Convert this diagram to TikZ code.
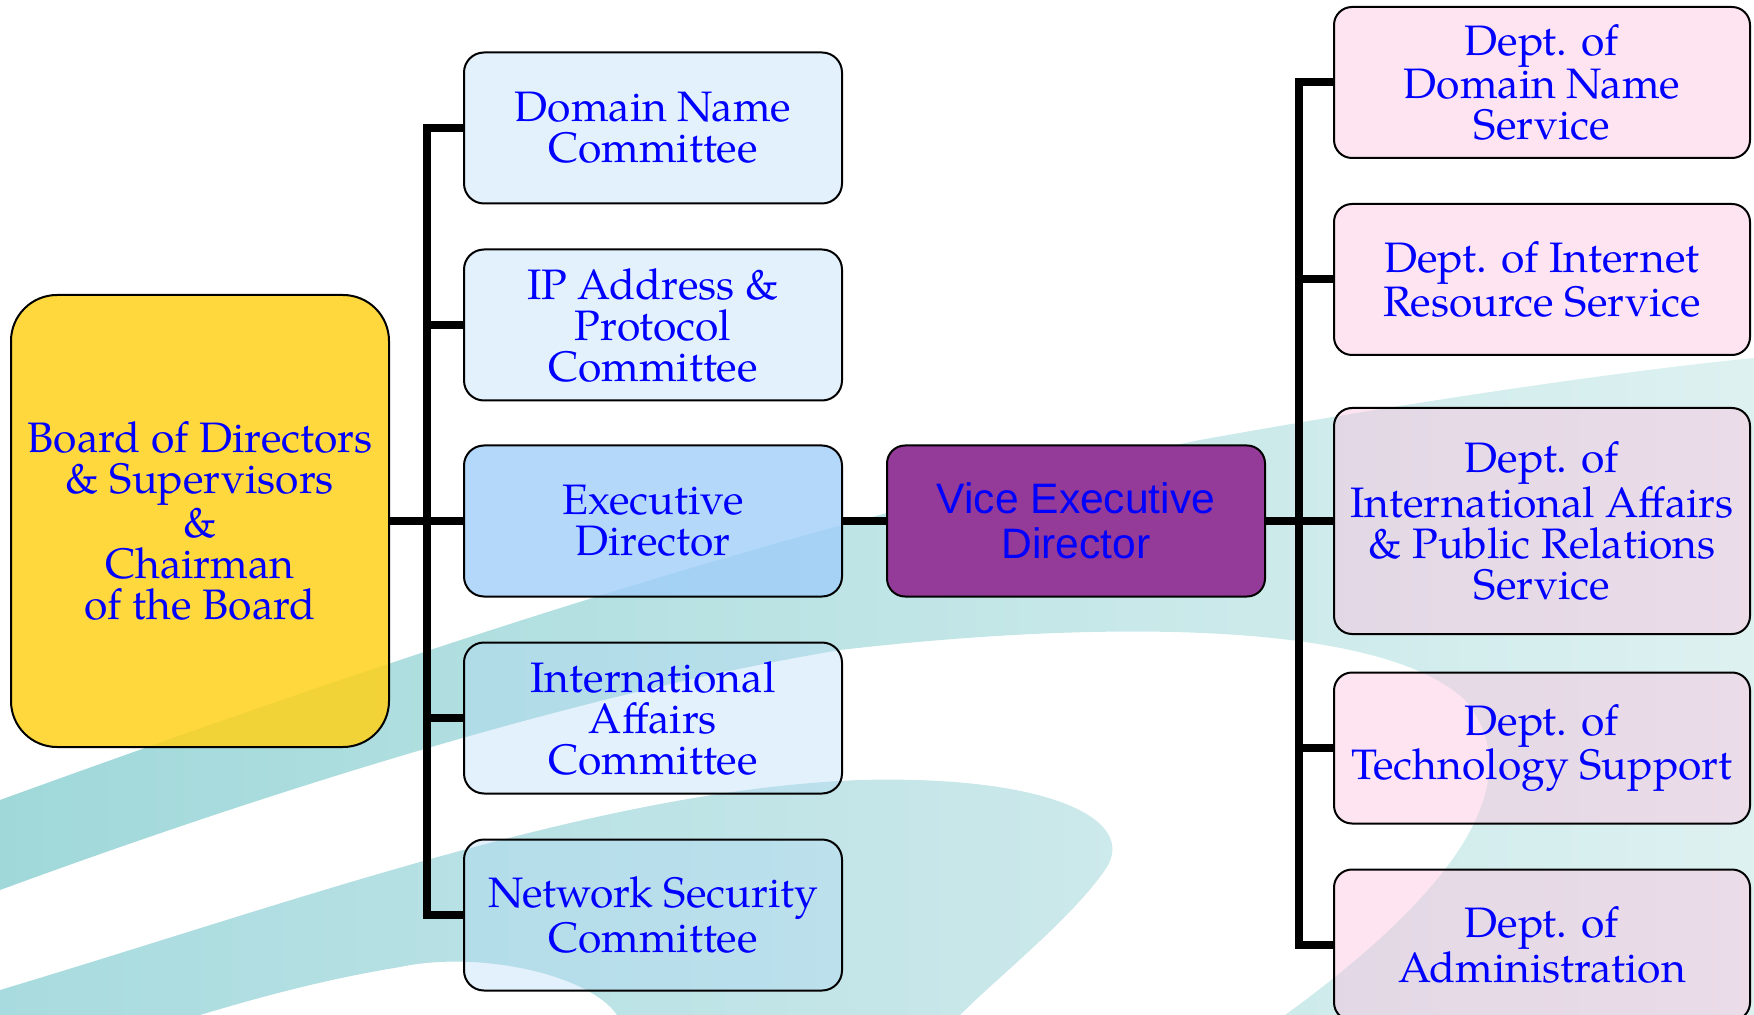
\documentclass[tikz,border=0pt]{standalone}
\usepackage{fontspec}
\setmainfont{texgyrepagella}[Extension=.otf,UprightFont=*-regular,BoldFont=*-bold,ItalicFont=*-italic,BoldItalicFont=*-bolditalic]
\newfontfamily\vedfont{Liberation Sans}
\usepackage{tikz}
\usetikzlibrary{positioning}
\definecolor{bandA}{RGB}{160,216,218}
\definecolor{bandAlight}{RGB}{222,241,241}
\definecolor{bandB}{RGB}{168,219,223}
\definecolor{bandBlight}{RGB}{205,233,235}
\definecolor{boardfill}{RGB}{254,209,26}
\definecolor{commfill}{RGB}{175,215,246}
\definecolor{execfill}{RGB}{160,206,249}
\definecolor{vicefill}{RGB}{148,58,152}
\definecolor{deptfill}{RGB}{251,195,222}
\definecolor{labelblue}{RGB}{0,0,255}
\tikzset{unitbox/.style={rectangle, rounded corners=10pt, draw=black, line width=1pt,
           text=labelblue, text opacity=1, align=center, inner sep=2pt,
           font=\fontsize{21.3pt}{20.5pt}\selectfont},
         boardbox/.style={unitbox, rounded corners=23pt, fill=boardfill, fill opacity=0.85,
           minimum width=189pt, minimum height=226pt},
         commbox/.style={unitbox, fill=commfill, fill opacity=0.35,
           minimum width=189pt, minimum height=75.5pt},
         execbox/.style={commbox, fill=execfill, fill opacity=0.8},
         vicebox/.style={unitbox, rounded corners=9pt, fill=vicefill,
           minimum width=189pt, minimum height=75.5pt,
           font=\vedfont\fontsize{21.3pt}{22.5pt}\selectfont},
         deptbox/.style={unitbox, rounded corners=9pt, fill=deptfill, fill opacity=0.45,
           minimum width=208pt, minimum height=75.5pt},
         busline/.style={line width=4pt, draw=black}}

\begin{document}
\begin{tikzpicture}[x=0.5pt,y=-0.5pt]
  \useasboundingbox (0,0) rectangle (1754,1015);
  % background swooshes
  \begin{scope}
    \clip (0,0) rectangle (1754,1015);
    \shade[left color=bandA, right color=bandAlight]
      (0,800) .. controls (400,655) and (800,520) .. (1200,440)
      .. controls (1450,395) and (1650,368) .. (1754,358)
      -- (1754,1015) -- (1285,1015)
      .. controls (1430,910) and (1540,790) .. (1465,700)
      .. controls (1380,620) and (1100,620) .. (840,650)
      .. controls (600,690) and (300,780) .. (0,890) -- cycle;
    \shade[left color=bandB, right color=bandBlight]
      (0,990) .. controls (300,900) and (600,790) .. (860,780)
      .. controls (1050,775) and (1140,820) .. (1105,870)
      .. controls (1070,920) and (1000,975) .. (960,1015)
      -- (617,1015) .. controls (590,975) and (480,950) .. (400,967)
      .. controls (320,980) and (250,1000) .. (200,1015) -- (0,1015) -- cycle;
  \end{scope}

  \node[boardbox] (board) at (200,521) {Board of Directors\\\& Supervisors\\\&\\Chairman\\of the Board};

  \node[commbox] (dnc)  at (653,128) {Domain Name\\Committee};
  \node[commbox] (ipc)  at (653,325) {IP Address \&\\Protocol\\Committee};
  \node[execbox] (exec) at (653,521) {Executive\\Director};
  \node[commbox] (iac)  at (653,718) {International\\Affairs\\Committee};
  \node[commbox] (nsc)  at (653,915) {Network Security\\Committee};

  \node[vicebox] (vice) at (1076,521) {Vice Executive\\Director};

  \node[deptbox] (ddns)  at (1542,82.5) {Dept. of\\Domain Name\\Service};
  \node[deptbox] (dirs)  at (1542,279.5) {Dept. of Internet\\Resource Service};
  \node[deptbox, minimum height=113pt] (diapr) at (1542,521) {Dept. of\\International Affairs\\\& Public Relations\\Service};
  \node[deptbox] (dts)   at (1542,748) {Dept. of\\Technology Support};
  \node[deptbox] (dadm)  at (1542,945) {Dept. of\\Administration};

  \coordinate (lbus) at (427,0);
  \coordinate (rbus) at (1299,0);

  \draw[busline] (board.east) -- (exec.west);
  \draw[busline] (dnc.west) -- (dnc.west -| lbus) |- (nsc.west);
  \draw[busline] (ipc.west) -- (ipc.west -| lbus);
  \draw[busline] (iac.west) -- (iac.west -| lbus);
  \draw[busline] (exec.east) -- (vice.west);
  \draw[busline] (vice.east) -- (diapr.west);
  \draw[busline] (ddns.west) -- (ddns.west -| rbus) |- (dadm.west);
  \draw[busline] (dirs.west) -- (dirs.west -| rbus);
  \draw[busline] (dts.west) -- (dts.west -| rbus);
\end{tikzpicture}
\end{document}
